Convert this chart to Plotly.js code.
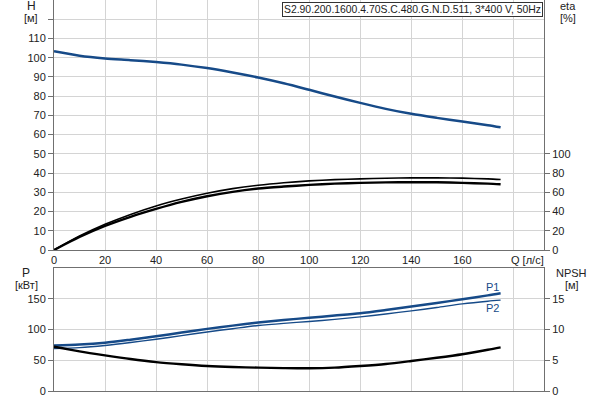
<!DOCTYPE html>
<html>
<head>
<meta charset="utf-8">
<script src="https://cdn.plot.ly/plotly-3.0.1.min.js"></script>
<style>html,body{margin:0;padding:0;background:#fff;}#chart{width:600px;height:400px;}</style>
</head>
<body>
<div id="chart"></div>
<script>
// Flow rate Q [л/с]
const Q = [0,10,20,30,40,50,60,70,80,90,100,110,120,130,140,150,160,170,175];
// Head H [м]
const H = [103.3,101.0,99.6,98.7,97.7,96.4,94.6,92.3,89.7,86.7,83.3,79.8,76.5,73.4,70.8,68.7,66.8,64.9,63.8];
// Efficiencies eta [%]
const ETA1 = [0,14.5,26.7,37,45.8,53,59,63.8,67.4,70,71.9,73.2,74,74.6,75,75,74.7,74,73.3];
const ETA2 = [0,13.5,25,34.5,42.7,50,55.9,60.5,63.9,66,67.7,69,69.8,70.3,70.5,70.4,69.8,69,68.4];
// Power P [кВт]
const P1 = [74,75.5,78.5,83.5,89,95,101,106.3,111.2,115.5,119,122.7,126.5,131.7,137.3,143,149.3,155.5,159];
const P2 = [69,70.5,74,78.8,84.2,90,96,101.3,106.4,110,113,116.5,120.5,125.3,130.3,135.8,141.7,146,147.7];
// NPSH [м]
const NPSH = [7.2,6.45,5.8,5.2,4.7,4.35,4.07,3.9,3.8,3.72,3.69,3.8,4.07,4.4,4.88,5.4,5.97,6.7,7.1];

const xTicks = [0,20,40,60,80,100,120,140,160,180];
const xTickText = ['0','20','40','60','80','100','120','140','160',''];
const hTicks = [0,10,20,30,40,50,60,70,80,90,100,110,120];
const hTickText = ['0','10','20','30','40','50','60','70','80','90','100','110',''];
const etaTicks = [0,20,40,60,80,100];
const pTicks = [0,50,100,150];
const npshTicks = [0,5,10,15];

const BLUE = '#164a88';
const GRID = '#d4d4d4';
const LINE = '#707070';
const FONT = {family: 'Liberation Sans, Arial, sans-serif', size: 11, color: '#222'};

const traces = [
  {x: Q, y: H, xaxis: 'x', yaxis: 'y', mode: 'lines', line: {color: BLUE, width: 2.5, shape: 'spline', smoothing: 0.8}},
  {x: Q, y: ETA1, xaxis: 'x', yaxis: 'y2', mode: 'lines', line: {color: '#000', width: 1.6, shape: 'spline', smoothing: 0.8}},
  {x: Q, y: ETA2, xaxis: 'x', yaxis: 'y2', mode: 'lines', line: {color: '#000', width: 2.4, shape: 'spline', smoothing: 0.8}},
  {x: Q, y: P1, xaxis: 'x2', yaxis: 'y3', mode: 'lines', line: {color: BLUE, width: 2.5, shape: 'spline', smoothing: 0.8}},
  {x: Q, y: P2, xaxis: 'x2', yaxis: 'y3', mode: 'lines', line: {color: BLUE, width: 1.4, shape: 'spline', smoothing: 0.8}},
  {x: Q, y: NPSH, xaxis: 'x2', yaxis: 'y4', mode: 'lines', line: {color: '#000', width: 2.4, shape: 'spline', smoothing: 0.8}}
];

const plotL = 54, plotW = 490, plotH = 391;
const px = v => (v - plotL) / plotW;
const py = v => (plotH - v) / plotH;

function ann(text, x, y, extra) {
  return Object.assign({text: text, xref: 'paper', yref: 'paper', x: px(x), y: py(y),
    xanchor: 'center', yanchor: 'middle', showarrow: false, font: FONT}, extra || {});
}

const layout = {
  width: 600, height: 400,
  margin: {l: 54, r: 56, t: 0, b: 9},
  paper_bgcolor: '#fff', plot_bgcolor: '#fff',
  showlegend: false,
  font: FONT,
  xaxis: {domain: [0, 1], anchor: 'y', range: [0, 192], tickvals: xTicks, ticktext: xTickText,
    showgrid: true, gridcolor: GRID, gridwidth: 1, zeroline: false, showline: true, linecolor: LINE, linewidth: 1,
    ticks: '', tickfont: FONT},
  yaxis: {domain: [(plotH - 250) / plotH, 1], anchor: 'x', range: [0, 130], tickvals: hTicks, ticktext: hTickText,
    showgrid: true, gridcolor: GRID, zeroline: false, showline: true, linecolor: LINE, linewidth: 1,
    ticks: 'outside', ticklen: 5, tickcolor: LINE, tickfont: FONT},
  yaxis2: {overlaying: 'y', side: 'right', anchor: 'x', range: [0, 260], tickvals: etaTicks,
    showgrid: false, zeroline: false, showline: true, linecolor: LINE, linewidth: 1,
    ticks: 'outside', ticklen: 5, tickcolor: LINE, tickfont: FONT},
  xaxis2: {domain: [0, 1], anchor: 'y3', range: [0, 192], tickvals: xTicks, showticklabels: false,
    showgrid: true, gridcolor: GRID, zeroline: false, showline: true, mirror: true, linecolor: LINE, linewidth: 1,
    ticks: ''},
  yaxis3: {domain: [0, (plotH - 268) / plotH], anchor: 'x2', range: [0, 200], tickvals: pTicks,
    showgrid: true, gridcolor: GRID, zeroline: false, showline: true, linecolor: LINE, linewidth: 1,
    ticks: 'outside', ticklen: 5, tickcolor: LINE, tickfont: FONT},
  yaxis4: {overlaying: 'y3', side: 'right', anchor: 'x2', range: [0, 20], tickvals: npshTicks,
    showgrid: false, zeroline: false, showline: true, linecolor: LINE, linewidth: 1,
    ticks: 'outside', ticklen: 5, tickcolor: LINE, tickfont: FONT},
  annotations: [
    {text: 'S2.90.200.1600.4.70S.C.480.G.N.D.511, 3*400 V, 50Hz', xref: 'paper', yref: 'paper',
      x: px(543), y: py(2), xanchor: 'right', yanchor: 'top', showarrow: false,
      font: Object.assign({}, FONT, {size: 10.4}),
      bgcolor: '#fff', bordercolor: '#333', borderwidth: 1, borderpad: 1},
    ann('H', 31, 6, {font: Object.assign({}, FONT, {size: 12})}),
    ann('[м]', 31, 18),
    ann('eta', 568, 6),
    ann('[%]', 568, 18),
    ann('P', 26, 273, {font: Object.assign({}, FONT, {size: 12})}),
    ann('[кВт]', 26, 285),
    ann('NPSH', 571.5, 273),
    ann('[м]', 571.5, 285),
    ann('Q [л/с]', 509, 260, {xanchor: 'left'}),
    ann('P1', 492, 287, {font: Object.assign({}, FONT, {color: BLUE})}),
    ann('P2', 492, 308, {font: Object.assign({}, FONT, {color: BLUE})})
  ]
};

Plotly.newPlot('chart', traces, layout, {staticPlot: true, displayModeBar: false});
</script>
</body>
</html>
